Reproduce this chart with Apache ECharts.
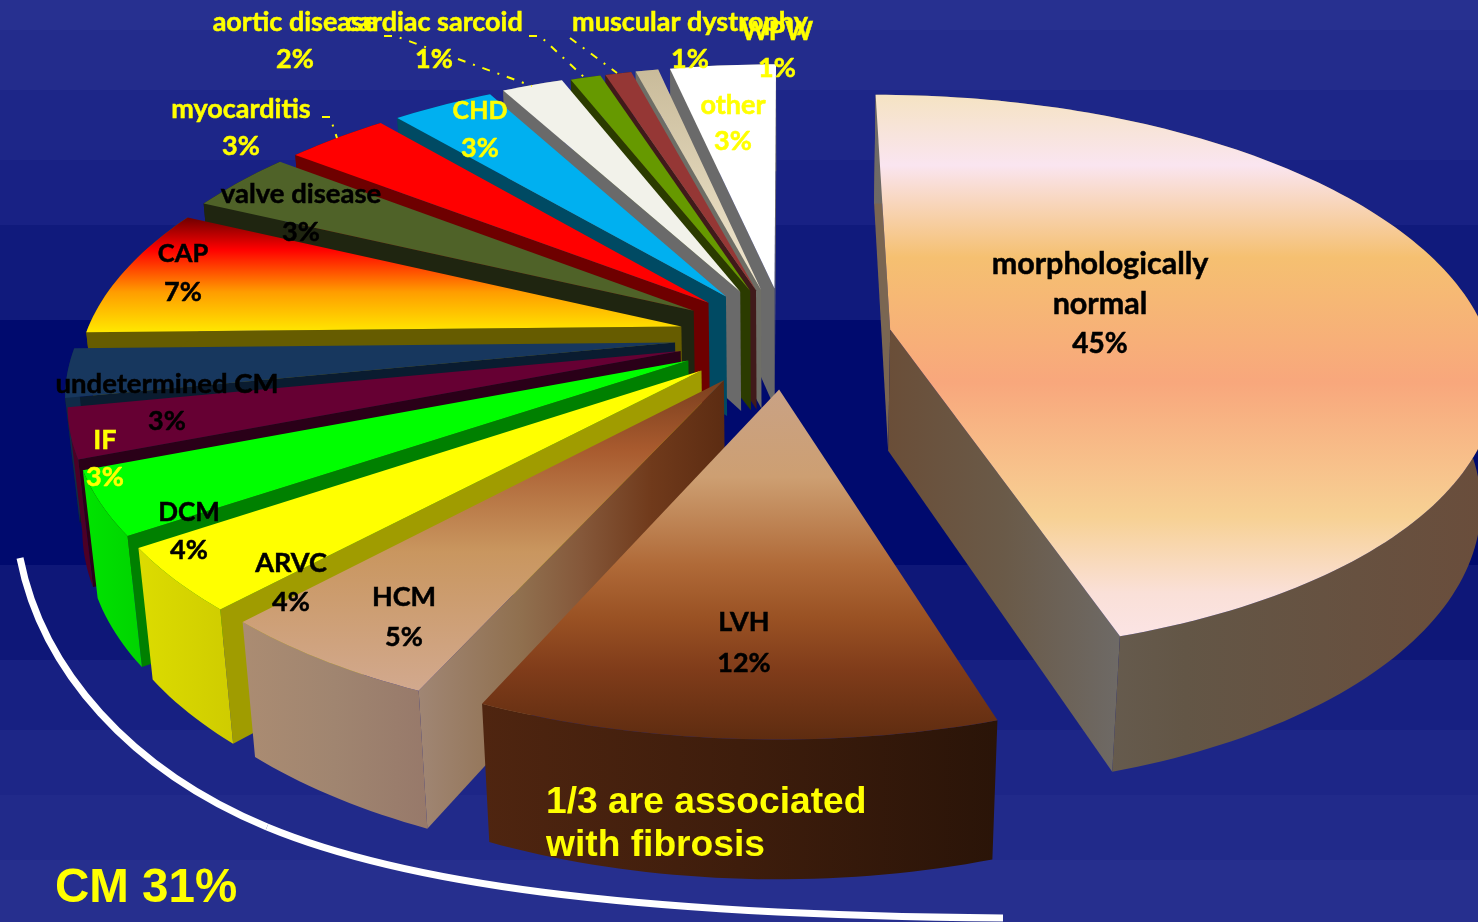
<!DOCTYPE html>
<html><head><meta charset="utf-8">
<style>html,body{margin:0;padding:0;background:#000a6e;overflow:hidden}#c{width:1478px;height:922px}</style>
<script src="https://cdn.jsdelivr.net/npm/echarts@6/dist/echarts.min.js"></script>
</head><body><div id="c"></div>
<script>
// ---- data ----
const categories = ['morphologically normal','LVH','HCM','ARVC','DCM','IF','undetermined CM','CAP','valve disease','myocarditis','CHD','aortic disease','cardiac sarcoid','muscular dystrophy','WPW','other'];
const values = [45.16,11.52,5.17,3.62,3.59,2.83,2.78,7.41,3.45,3.31,3.27,1.97,0.97,0.84,0.73,3.39];
const noteLines = ['1/3 are associated','with fibrosis'];
const bracketLabel = 'CM 31%';

// ---- look ----
const grad = (x2,y2,stops)=>new echarts.graphic.LinearGradient(0,0,x2,y2,stops.map((c,i)=>Array.isArray(c)?{offset:c[0],color:c[1]}:{offset:i/(stops.length-1),color:c}));
const skins = [
 {top:grad(0,1,[[0,'#f5e3c3'],[.13,'#fae5f0'],[.3,'#f5c071'],[.53,'#f8a77c'],[.78,'#f7d194'],[.92,'#fae0d8'],[1,'#fbe4e4']]),
  arc:grad(1,0,['#6e6a66','#635646','#6a4d3b']), side0:'#7a6652', side:grad(1,0,['#6a4e38','#6a5a48','#6e6a66'])},
 {top:grad(0,1,[[0,'#c9a285'],[.25,'#cd9f72'],[.5,'#b06a38'],[.65,'#9a5224'],[.8,'#803c1a'],[1,'#5e2c10']]),
  arc:grad(1,0,['#4f2510','#3e1d0c','#2a1408']), side:grad(1,0,['#4f2611','#3b1c0c'])},
 {top:grad(0,1,[[0,'#7a3f1e'],[.22,'#a85a2e'],[.55,'#c9965f'],[1,'#d2a98e']]),
  arc:grad(1,0,['#ab8c72','#a08570','#97796a']), side0:grad(1,0,[[0,'#a08674'],[.33,'#90704f'],[.53,'#85583a'],[.76,'#703a1b'],[1,'#5c2c12']]), side:'#8b6a50'},
 {top:'#ffff00',arc:grad(1,0,['#dcdc00','#cfcc00']),side:'#a09c00'},
 {top:'#00ff00',arc:grad(1,0,['#00e400','#00d400']),side:'#008000'},
 {top:'#660033',arc:'#4d0026',side:'#2a0018'},
 {top:'#17375e',arc:'#102a48',side:'#0a1c30'},
 {top:grad(0,1,[[0,'#6e0000'],[.28,'#ff0000'],[.65,'#ff9d00'],[1,'#ffe800']]),arc:'#665c00',side:'#665c00'},
 {top:'#4f6228',arc:'#1f2510',side:'#1f2510'},
 {top:'#ff0000',arc:'#6e0000',side:'#6e0000'},
 {top:'#00b0f0',arc:'#004a63',side:'#004a63'},
 {top:'#f2f2ea',arc:'#6a6a6a',side:'#6a6a6a'},
 {top:'#669900',arc:'#2b3b00',side:'#2b3b00'},
 {top:'#953735',arc:'#401a1a',side:'#401a1a'},
 {top:grad(0,1,['#c9bb9a','#f2e8d0']),arc:'#6e6e66',side:'#6e6e66'},
 {top:'#ffffff',arc:'#6a6a6a',side:'#6a6a6a'}
];
const Y='#ffff00',K='#000000';
// label layout: centre x, first line centre y, line pitch, colour, name font size, percent font size
const labelLayout = [
 [1100,264,40,K,30.5,28],[744,622,41,K,27,27],[404,597,40,K,27,27],[291,563,39,K,27,27],[189,513,37,K,26,27],[105,440,37,Y,27,27],[167,384,37,K,27.5,27],[183,254,38,K,25.5,27],
 [301,194,38,K,27.5,27],[241,109,37,Y,27,27],[480,111,37,Y,25,27],[295,22,37,Y,27,27],[434,22,37,Y,27,27],[690,22,37,Y,27,27],[777,31,37,Y,26.5,27],[733,105,36,Y,27,27]
];
const labelBreaks = {'morphologically normal':['morphologically','normal']};
const leaders = [
 [[384,36],[395,36],[532,86]],
 [[529,36],[540,36],[585,78]],
 [[570,38],[617,73]],
 [[322,117],[330,117],[337,138]]
];
const bandStops = [[0,'#273090'],[30,'#232c8c'],[90,'#1d2688'],[160,'#182184'],[225,'#101a7c'],[320,'#000a6e'],[565,'#0e1778'],[660,'#172082'],[730,'#1d2687'],[795,'#212a8a'],[860,'#262f8e'],[922,'#262f8e']];

// ---- pie projection ----
const view = {cx:785.7,cy:336.9,A:596.5,B:274.7,H:124,kx:.163,ky:.161,m:.02};
const explode = [.178,.186,.184,.183,.182,.182,.186,.18,.184,.183,.182,.186,.182,.182,.182,.182];
const project=(x,y,z)=>[view.cx+view.A*x/(1-view.kx*y+view.m*z),view.cy+(view.B*y+view.H*z)/(1-view.ky*y+view.m*z)];
const total=values.reduce((a,b)=>a+b,0);
let acc=0;
const slices=values.map((v,i)=>{const a0=acc/total*2*Math.PI;acc+=v;const a1=acc/total*2*Math.PI;return {i,v,a0,a1,mid:(a0+a1)/2};});
const order=slices.slice().sort((p,q)=>(-Math.cos(p.mid))-(-Math.cos(q.mid)));
// signed turn of a radial wall on screen: tells which way it faces
const turn=(a,c,d)=>(c[0]-a[0])*(d[1]-c[1])-(c[1]-a[1])*(d[0]-c[0]);

function renderSlice(params,api){
 const s=order[params.dataIndex],sk=skins[s.i],e=explode[s.i];
 const ox=e*Math.sin(s.mid),oy=-e*Math.cos(s.mid);
 const n=Math.max(4,Math.ceil((s.a1-s.a0)/0.02));
 const arc=z=>{const r=[];for(let j=0;j<=n;j++){const t=s.a0+(s.a1-s.a0)*j/n;r.push(project(ox+Math.sin(t),oy-Math.cos(t),z));}return r;};
 const top=arc(0),bot=arc(1),a=project(ox,oy,0),b=project(ox,oy,1);
 const poly=(pts,fill)=>({type:'polygon',shape:{points:pts},style:{fill,stroke:null},silent:true});
 const children=[];
 if(turn(a,top[0],bot[0])<0) children.push(poly([a,top[0],bot[0],b],sk.side0||sk.side));
 if(turn(a,top[n],bot[n])>0) children.push(poly([a,top[n],bot[n],b],sk.side));
 children.push(poly(top.concat(bot.slice().reverse()),sk.arc));
 children.push(poly([a].concat(top),sk.top));
 return {type:'group',children};
}
function labelLines(i){return (labelBreaks[categories[i]]||[categories[i]]).concat(Math.round(values[i])+'%');}
function renderLabel(params){
 const i=params.dataIndex,L=labelLayout[i],lines=labelLines(i);
 return {type:'group',children:lines.map((t,j)=>({type:'text',silent:true,style:{text:t,x:L[0],y:L[1]+j*L[2],align:'center',verticalAlign:'middle',fill:L[3],stroke:L[3],lineWidth:.5,font:'bold '+(j===lines.length-1?L[5]:L[4])+'px Lato, "Open Sans", sans-serif'}}))};
}
function renderLeader(params){
 return {type:'polyline',silent:true,shape:{points:leaders[params.dataIndex]},style:{fill:null,stroke:'#ffff00',lineWidth:2,lineDash:[8,8,2,8]}};
}
const bg=new echarts.graphic.LinearGradient(0,0,0,1,bandStops.flatMap((b,i)=>{const out=[];if(i>0)out.push({offset:b[0]/922,color:bandStops[i-1][1]});out.push({offset:b[0]/922,color:b[1]});return out;}));

const chart=echarts.init(document.getElementById('c'),null,{renderer:'canvas',width:1478,height:922});
chart.setOption({
 animation:false,
 backgroundColor:bg,
 series:[
  {type:'custom',coordinateSystem:'none',renderItem:renderSlice,data:order.map(s=>s.v),z:2,silent:true},
  {type:'custom',coordinateSystem:'none',renderItem:renderLeader,data:leaders.map((_,i)=>i),z:3,silent:true},
  {type:'custom',coordinateSystem:'none',renderItem:renderLabel,data:values,z:4,silent:true}
 ],
 graphic:[
  {type:'bezierCurve',z:5,silent:true,shape:{x1:20,y1:558,cpx1:42,cpy1:670,cpx2:130,cpy2:770,x2:267,y2:827},style:{fill:null,stroke:'#ffffff',lineWidth:7}},
  {type:'bezierCurve',z:5,silent:true,shape:{x1:267,y1:827,cpx1:400,cpy1:882,cpx2:620,cpy2:915,x2:1003,y2:918},style:{fill:null,stroke:'#ffffff',lineWidth:7}},
  {type:'text',z:6,silent:true,style:{text:noteLines[0],x:546,y:803,verticalAlign:'middle',fill:'#ffff00',font:'bold 37.2px "Liberation Sans", Arial, sans-serif'}},
  {type:'text',z:6,silent:true,style:{text:noteLines[1],x:546,y:846,verticalAlign:'middle',fill:'#ffff00',font:'bold 37.2px "Liberation Sans", Arial, sans-serif'}},
  {type:'text',z:6,silent:true,style:{text:bracketLabel,x:55,y:889,verticalAlign:'middle',fill:'#ffff00',font:'bold 47.5px "Liberation Sans", Arial, sans-serif'}}
 ]
});
</script></body></html>
